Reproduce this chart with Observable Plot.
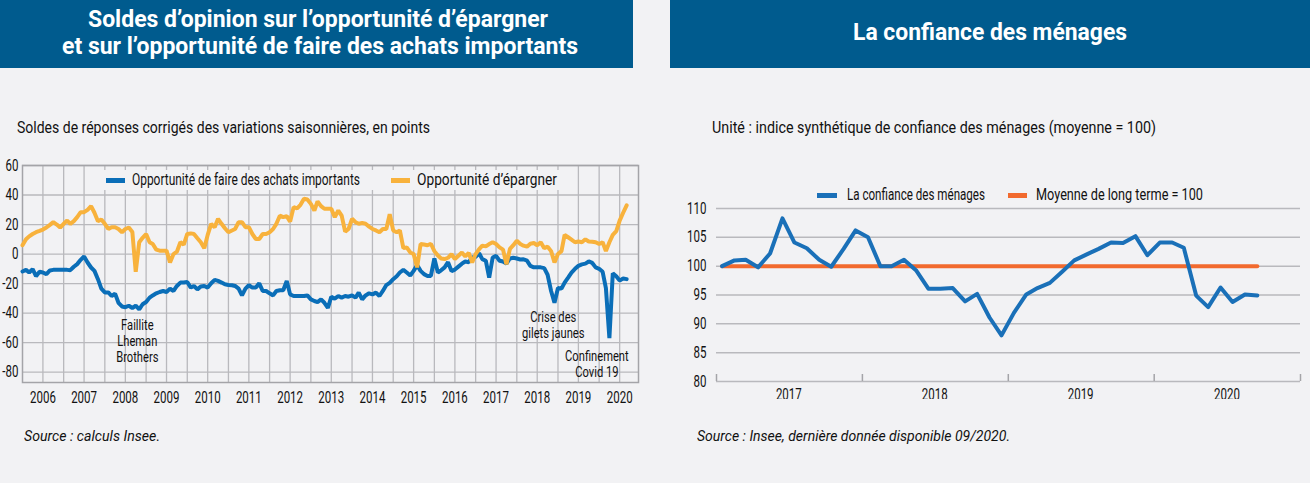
<!DOCTYPE html>
<html><head><meta charset="utf-8">
<script src="https://cdn.jsdelivr.net/npm/d3@7"></script>
<script src="https://cdn.jsdelivr.net/npm/@observablehq/plot@0.6"></script>
<style>
html,body{margin:0;padding:0;background:#f2f2f4;}
#page{position:relative;width:1310px;height:483px;overflow:hidden;background:#f2f2f4;
  font-family:Roboto,"Noto Sans",sans-serif;color:#111;}
.box{position:absolute;}
.t{position:absolute;white-space:nowrap;transform-origin:left center;line-height:1.2;}
.hdr{position:absolute;top:0;height:68px;background:#005b8e;}
.ht{color:#fff;font-weight:bold;font-size:24px;}
.sub{font-size:17px;top:117px;}
.src{font-size:15px;font-style:italic;}
.leg{font-size:16px;}
.sw{position:absolute;height:5px;}
.chart{position:absolute;}
</style></head>
<body><div id="page">
<div class="hdr" style="left:0;width:633px;"></div>
<div class="hdr" style="left:670px;width:640px;"></div>
<div id="t1" class="t ht" style="left:88px;top:5px;">Soldes d’opinion sur l’opportunité d’épargner</div>
<div id="t2" class="t ht" style="left:62px;top:32px;">et sur l’opportunité de faire des achats importants</div>
<div id="t3" class="t ht" style="left:853px;top:18px;">La confiance des ménages</div>
<div id="s1" class="t sub" style="left:17px;">Soldes de réponses corrigés des variations saisonnières, en points</div>
<div id="s2" class="t sub" style="left:712px;">Unité : indice synthétique de confiance des ménages (moyenne = 100)</div>
<div id="left" class="chart" style="left:0;top:150px;"></div>
<div id="right" class="chart" style="left:660px;top:180px;"></div>
<div class="box" style="left:101px;top:170px;width:462px;height:20px;background:#f2f2f4;"></div>
<div class="sw" style="left:106px;top:178px;width:19px;background:#0a6eb8"></div>
<div id="l1" class="t leg" style="left:132px;top:170px;">Opportunité de faire des achats importants</div>
<div class="sw" style="left:391px;top:178px;width:19px;background:#f8b23c"></div>
<div id="l2" class="t leg" style="left:417px;top:170px;">Opportunité d’épargner</div>
<div class="sw" style="left:817px;top:193px;width:20px;background:#1a70b8"></div>
<div id="l3" class="t leg" style="left:847px;top:185px;">La confiance des ménages</div>
<div class="sw" style="left:1008px;top:193px;width:19px;background:#f26a2e"></div>
<div id="l4" class="t leg" style="left:1036px;top:185px;">Moyenne de long terme = 100</div>
<div id="c1" class="t src" style="left:24px;top:427px;">Source : calculs Insee.</div>
<div id="c2" class="t src" style="left:697px;top:427px;">Source : Insee, dernière donnée disponible 09/2020.</div>
</div>
<script>
const FONT = 'Roboto,"Noto Sans",sans-serif';
// Left chart: monthly, Jan 2006 .. Sep 2020
const achats = [
 -11.8,-10.7,-12.5,-10.2,-15,-12,-12.5,-13.6,-11.1,-10.7,-10.7,-10.7,
 -10.7,-10.7,-10.9,-8.6,-6.8,-3.9,-1.6,-5.7,-9.1,-11.4,-17,-23.4,
 -26,-26,-28.4,-26.8,-33,-35.5,-36,-35,-36.5,-35,-37.5,-34,
 -32.5,-29.5,-28,-26.6,-25.7,-25,-25.7,-23.4,-25,-21.6,-19.3,-19.3,
 -18.9,-22.7,-21.6,-23.9,-22,-21.6,-22.7,-19.8,-17.5,-18.2,-19.3,-20.5,
 -20.9,-21.1,-21.6,-23.4,-28,-23.4,-21.1,-22.7,-22.7,-19.8,-25,-25,
 -26.6,-28,-25,-24.5,-24.5,-18.2,-27.3,-28.4,-28.4,-28.4,-28.4,-28,
 -30.7,-31.8,-32.5,-30.7,-33,-36.4,-28.9,-30.2,-28.4,-29.5,-28.4,-28.9,
 -28,-29.5,-26.1,-30.7,-28,-26.6,-27.3,-26.1,-28.4,-25,-21,-19.5,
 -17,-15,-12.5,-10.7,-12.5,-14.5,-11.4,-7.5,-11.4,-13.6,-14.8,-14.8,
 -3,-12.5,-11,-9,-5.5,-11.5,-10.5,-8.5,-6.5,-5,-5.5,-2.3,
 -1.8,0.5,-3.4,-4.5,-16,-2.3,-1.2,-4.5,-5,-6.5,-3,-2.5,
 -3,-3.7,-3.5,-4.5,-8,-9,-9,-9,-9.5,-14,-25,-33,
 -23,-23.4,-19.3,-15.9,-12.5,-10,-8,-7,-6.5,-5,-6,-9,
 -10,-12,-23,-57,-13,-15,-18,-16.5,-17
];
const epargner = [
 6,10,12,13.6,14.8,15.7,16.6,18,19.8,21.6,20,18,
 20.5,22.7,20.5,22.3,25,28.4,28.4,30,32.5,28,22.3,23.4,
 20.5,17,18.2,18.2,17,14.8,17,18,15,-12,8,11,
 13.6,8,6.8,3,2.3,2.3,2.3,-5.7,0,1.6,8,6.4,
 13.6,14,13.6,10.7,8,3.9,13,20.5,18.2,23.9,20.5,17.5,
 14.8,16,17,21.6,21.6,18.2,18.2,13.6,10.2,10.2,13.6,13.6,
 14.8,17,20.5,26,25,25.7,22,31.8,31,33.4,37.5,37,
 34,29.5,35.7,32.5,30.7,30.7,30.7,25,29.5,26,15.2,17,
 23.9,21.6,20.5,21,20.5,18.6,17,16,14.8,17,17,27,
 16,14.8,16,4,4.5,1.1,0,-9,6.8,6.5,6,7,
 2,-1,-3,-3.4,-2.5,0,-3.4,-1.1,1.1,-1.6,0.7,-5.7,
 0,3.4,5.7,5.2,6.8,8,6.8,4.5,3,-7,3.5,6,
 9,6.8,5.7,5,7,7.5,6,8,4,5,2,-5.7,
 0,2,13,11.4,9.8,8,8.5,8,10,8.5,8.4,8,
 6.8,8,2,8,13,15.5,22.7,28,33
];
const leftYTicks = [-80,-60,-40,-20,0,20,40,60];
const leftYears = d3.range(2006, 2021);
const annotations = [
  {date: "2008-10-15", value: -44, text: "Faillite\nLheman\nBrothers"},
  {date: "2018-11-20", value: -38.6, text: "Crise des\ngilets jaunes"},
  {date: "2019-12-12", value: -65, text: "Confinement\nCovid 19"}
];
// Right chart: monthly, Jan 2017 .. Sep 2020
const confiance = [
 100,101,101.1,99.8,102.2,108.3,104.1,103.1,101.1,99.9,103,106.2,
 105,100,100,101.1,99.3,96.1,96.1,96.2,93.9,95.2,91.1,88,
 91.9,95.1,96.2,97.1,99,101,102,103,104.1,104,105.2,101.9,
 104.1,104.1,103.2,94.9,92.9,96.3,93.8,95.1,94.9
];
const moyenne = 100;
const rightYTicks = [80,85,90,95,100,105,110];
const rightYears = [2017, 2018, 2019, 2020];

const BLUE = "#0a6eb8", ORANGE = "#f8b23c", GRID = "#b9b9bd";

// horizontal condensing of text (the reference uses a condensed face)
function squeeze(svg, s) {
  svg.querySelectorAll("text").forEach(t => {
    const tr = t.getAttribute("transform") || "";
    let x = parseFloat(t.getAttribute("x"));
    if (!isFinite(x)) x = 0;
    t.setAttribute("transform", `${tr} translate(${x},0) scale(${s},1) translate(${-x},0)`);
  });
}
function fit(id, target) {
  const el = document.getElementById(id);
  const w = el.getBoundingClientRect().width;
  el.style.transform = `scaleX(${target / w})`;
}

const leftDates = d3.utcMonth.range(new Date(Date.UTC(2006,0,1)), new Date(Date.UTC(2020,9,1)));
const leftData = leftDates.map((d,i) => ({date: d, achats: achats[i], epargner: epargner[i]}));
const halfYears = d3.utcMonth.every(6).range(new Date(Date.UTC(2006,0,1)), new Date(Date.UTC(2021,0,1)));
const midYears = leftYears.map(y => new Date(Date.UTC(y,6,1)));
const ann = annotations.map(a => ({...a, date: new Date(a.date + "T00:00:00Z")}));

const left = Plot.plot({
  width: 650, height: 262,
  marginLeft: 22, marginRight: 12, marginTop: 15, marginBottom: 30,
  style: {background: "transparent", fontFamily: FONT, fontSize: "15px", color: "#111", overflow: "visible"},
  x: {type: "utc", domain: [new Date(Date.UTC(2006,0,1)), new Date(Date.UTC(2020,11,15))]},
  y: {domain: [-87, 60]},
  marks: [
    Plot.ruleX(halfYears.slice(1), {stroke: GRID, strokeWidth: 1.3}),
    Plot.ruleY(leftYTicks, {stroke: GRID, strokeWidth: 1.3}),
    Plot.frame({stroke: "#a4a4a8", strokeWidth: 1.5}),
    Plot.axisY({ticks: leftYTicks, tickSize: 0, tickPadding: 4, tickFormat: d => String(d), label: null, fontSize: 16}),
    Plot.axisX({ticks: midYears, tickSize: 0, tickPadding: 9, tickFormat: d => String(d.getUTCFullYear()), label: null, fontSize: 16}),
    Plot.lineY(leftData, {x: "date", y: "achats", stroke: BLUE, strokeWidth: 4, strokeLinejoin: "miter"}),
    Plot.lineY(leftData, {x: "date", y: "epargner", stroke: ORANGE, strokeWidth: 4, strokeLinejoin: "miter"}),
    Plot.text(ann, {x: "date", y: "value", text: "text", lineAnchor: "top", textAnchor: "middle", fontSize: 15.5, lineHeight: 1.02, fill: "#111"})
  ]
});
squeeze(left, 0.72);
document.getElementById("left").appendChild(left);

const rightDates = d3.utcMonth.range(new Date(Date.UTC(2017,0,1)), new Date(Date.UTC(2020,9,1))).map(d => new Date(+d + 14*864e5));
const rightData = rightDates.map((d,i) => ({date: d, confiance: confiance[i], moyenne}));
const yearStarts = d3.range(2017, 2022).map(y => new Date(Date.UTC(y,0,1)));
const rightMid = rightYears.map(y => new Date(Date.UTC(y,6,1)));

const right = Plot.plot({
  width: 650, height: 219,
  marginLeft: 56, marginRight: 10, marginTop: 28, marginBottom: 18,
  style: {background: "transparent", fontFamily: FONT, fontSize: "15px", color: "#111", overflow: "hidden"},
  x: {type: "utc", domain: [new Date(Date.UTC(2017,0,1)), new Date(Date.UTC(2021,0,1))]},
  y: {domain: [80, 110]},
  marks: [
    Plot.ruleY(rightYTicks, {stroke: GRID, strokeWidth: 1.5}),
    Plot.axisY({ticks: rightYTicks, tickSize: 0, tickPadding: 10, label: null, fontSize: 16}),
    Plot.axisX({ticks: yearStarts, tickSize: -7, tickFormat: () => "", label: null, stroke: "#a4a4a8", strokeWidth: 1.5}),
    Plot.axisX({ticks: rightMid, tickSize: 0, tickPadding: 7, tickFormat: d => String(d.getUTCFullYear()), label: null, fontSize: 16}),
    Plot.lineY(rightData, {x: "date", y: "moyenne", stroke: "#f26a2e", strokeWidth: 4}),
    Plot.lineY(rightData, {x: "date", y: "confiance", stroke: "#1a70b8", strokeWidth: 4})
  ]
});
squeeze(right, 0.72);
document.getElementById("right").appendChild(right);

fit("t1", 460); fit("t2", 516); fit("t3", 274);
fit("s1", 413); fit("s2", 444);
fit("l1", 228); fit("l2", 140); fit("l3", 138); fit("l4", 167);
fit("c1", 136); fit("c2", 313);
</script>
</body></html>
